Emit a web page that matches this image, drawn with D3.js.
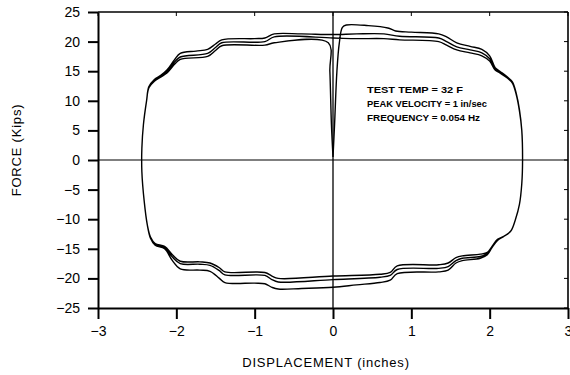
<!DOCTYPE html>
<html>
<head>
	<title>Hysteresis loop</title>
	<script src="https://cdnjs.cloudflare.com/ajax/libs/d3/7.8.5/d3.min.js" charset="utf-8"></script>
	<style>
		body { margin: 0; background: white; }
		text { font-family: "Liberation Sans", Arial, sans-serif; fill: black; }
		.axis path, .axis line { fill: none; stroke: black; stroke-width: 2px; }
		.tick text { font-size: 14px; }
		.curve { fill: none; stroke: black; stroke-width: 1.4px; stroke-linejoin: round; }
	</style>
</head>
<body>
	<svg id="main" width="570" height="375"></svg>

	<script>
		// axis ticks
		var xTicks = [-3, -2, -1, 0, 1, 2, 3];
		var yTicks = [-25, -20, -15, -10, -5, 0, 5, 10, 15, 20, 25];

		// displacement (in), force (kips)
		var firstLoad = [[0, 0.5], [0.02, 6], [0.05, 15], [0.08, 19.7], [0.12, 22.4], [0.17, 22.8]];

		var cycle1 = [[0.45, 22.7], [0.7, 22.3], [0.8, 21.8], [1.0, 21.6], [1.35, 21.3], [1.45, 20.8], [1.58, 19.8],
			[1.75, 19.2], [1.9, 18.7], [2.0, 17.6], [2.07, 15.6], [2.13, 15.0], [2.22, 14.1], [2.29, 13.2], [2.34, 11.2],
			[2.38, 8.5], [2.41, 5], [2.42, 0], [2.41, -4], [2.38, -7.5], [2.33, -10], [2.27, -12], [2.18, -12.9],
			[2.1, -13.6], [2.03, -14.8], [1.97, -16.0], [1.88, -16.6], [1.65, -17.0], [1.57, -17.4], [1.47, -18.6],
			[1.35, -18.9], [0.82, -19.2], [0.73, -20.3], [0.6, -20.7], [0.3, -21.1], [0, -21.5], [-0.4, -21.7],
			[-0.7, -21.8], [-0.78, -21.5], [-0.87, -20.9], [-1.0, -20.8], [-1.38, -20.7], [-1.45, -20.0], [-1.57, -18.8],
			[-1.7, -18.6], [-1.95, -18.4], [-2.05, -17.0], [-2.15, -15.0], [-2.27, -14.4], [-2.33, -13.2], [-2.37, -11],
			[-2.41, -7], [-2.44, -2], [-2.44, 2], [-2.42, 6], [-2.38, 10], [-2.35, 12.4], [-2.28, 13.6], [-2.2, 14.3],
			[-2.12, 15.2], [-2.02, 17.0], [-1.95, 18.0], [-1.75, 18.4], [-1.6, 18.7], [-1.5, 19.6], [-1.42, 20.3],
			[-1.0, 20.5], [-0.87, 20.6], [-0.75, 21.3], [-0.4, 21.3], [0, 21.2]];

		var cycle2 = [[0.3, 21.3], [0.65, 21.3], [0.85, 20.9], [1.35, 20.6], [1.45, 20.0], [1.58, 19.1], [1.75, 18.6],
			[1.9, 18.1], [2.0, 17.1], [2.07, 15.4], [2.13, 14.8], [2.22, 14.0], [2.29, 13.1], [2.34, 11.1], [2.38, 8.4],
			[2.41, 5], [2.42, 0], [2.41, -4], [2.38, -7.5], [2.33, -10], [2.27, -12], [2.18, -12.9], [2.1, -13.5],
			[2.03, -14.7], [1.97, -15.8], [1.88, -16.3], [1.65, -16.6], [1.57, -17.0], [1.47, -18.0], [1.35, -18.3],
			[0.82, -18.5], [0.73, -19.5], [0.6, -19.8], [0, -20.2], [-0.7, -20.6], [-0.78, -20.2], [-0.87, -19.5],
			[-1.38, -19.4], [-1.45, -18.7], [-1.57, -17.8], [-1.7, -17.6], [-1.95, -17.5], [-2.05, -16.4], [-2.15, -14.8],
			[-2.27, -14.2], [-2.33, -13.1], [-2.37, -11], [-2.41, -7], [-2.44, -2], [-2.44, 2], [-2.42, 6], [-2.38, 10],
			[-2.35, 12.3], [-2.28, 13.4], [-2.2, 14.1], [-2.12, 14.9], [-2.02, 16.6], [-1.95, 17.4], [-1.6, 18.0],
			[-1.5, 19.0], [-1.42, 19.8], [-0.87, 20.0], [-0.75, 20.8], [0, 20.6]];

		var cycle3 = [[0.3, 20.5], [0.65, 20.5], [0.85, 20.3], [1.35, 20.0], [1.45, 19.4], [1.58, 18.6], [1.75, 18.1],
			[1.9, 17.6], [2.0, 16.7], [2.07, 15.2], [2.13, 14.7], [2.22, 13.9], [2.29, 13.0], [2.34, 11.0], [2.38, 8.3],
			[2.41, 5], [2.42, 0], [2.41, -4], [2.38, -7.5], [2.33, -10], [2.27, -12], [2.18, -12.9], [2.1, -13.4],
			[2.03, -14.6], [1.97, -15.6], [1.88, -15.9], [1.65, -16.2], [1.57, -16.5], [1.47, -17.4], [1.35, -17.7],
			[0.82, -17.9], [0.73, -19.0], [0.6, -19.3], [0, -19.6], [-0.7, -20.0], [-0.78, -19.6], [-0.87, -19.0],
			[-1.38, -18.9], [-1.45, -18.2], [-1.57, -17.4], [-1.7, -17.2], [-1.95, -17.1], [-2.05, -16.0], [-2.15, -14.6],
			[-2.27, -14.1], [-2.33, -13.0], [-2.37, -11], [-2.41, -7], [-2.44, -2], [-2.44, 2], [-2.42, 6], [-2.38, 10],
			[-2.35, 12.2], [-2.28, 13.3], [-2.2, 14.0], [-2.12, 14.7], [-2.02, 16.2], [-1.95, 17.0], [-1.6, 17.5],
			[-1.5, 18.5], [-1.42, 19.3], [-0.87, 19.4], [-0.75, 19.8], [-0.06, 19.8]];

		var finalUnload = [[-0.04, 15], [-0.02, 6], [0, 0.5]];

		var notes = ["TEST TEMP = 32  F", "PEAK VELOCITY = 1 in/sec", "FREQUENCY = 0.054 Hz"];

		var LEFT = 98, TOP = 12, WIDTH = 470, HEIGHT = 296;

		var svg = d3.select('#main');
		var g = svg.append('g').attr('transform', 'translate(' + LEFT + ',' + TOP + ')');

		var x = d3.scaleLinear().domain([-3, 3]).range([0, WIDTH]);
		var y = d3.scaleLinear().domain([-25, 25]).range([HEIGHT, 0]);

		// top and right border with small inward ticks
		g.append('line').attr('x1', 0).attr('x2', WIDTH).attr('y1', 0).attr('y2', 0)
			.attr('stroke', 'black').attr('stroke-width', 1.6);
		g.append('line').attr('x1', WIDTH).attr('x2', WIDTH).attr('y1', 0).attr('y2', HEIGHT)
			.attr('stroke', 'black').attr('stroke-width', 1.6);
		g.selectAll('.rtick').data(yTicks).enter().append('line')
			.attr('x1', WIDTH - 4).attr('x2', WIDTH)
			.attr('y1', function(d) { return y(d); }).attr('y2', function(d) { return y(d); })
			.attr('stroke', 'black').attr('stroke-width', 1);
		g.selectAll('.ttick').data(xTicks).enter().append('line')
			.attr('x1', function(d) { return x(d); }).attr('x2', function(d) { return x(d); })
			.attr('y1', 0).attr('y2', 4)
			.attr('stroke', 'black').attr('stroke-width', 1);

		// zero lines
		g.append('line').attr('x1', 0).attr('x2', WIDTH).attr('y1', y(0)).attr('y2', y(0))
			.attr('stroke', 'black').attr('stroke-width', 1.1);
		g.append('line').attr('x1', x(0)).attr('x2', x(0)).attr('y1', 0).attr('y2', HEIGHT)
			.attr('stroke', 'black').attr('stroke-width', 1.3);

		g.append('g').attr('class', 'axis')
			.call(d3.axisLeft(y).tickValues(yTicks).tickFormat(d3.format('d'))
				.tickSize(10).tickSizeOuter(0).tickPadding(8));

		g.append('g').attr('class', 'axis')
			.attr('transform', 'translate(0,' + HEIGHT + ')')
			.call(d3.axisBottom(x).tickValues(xTicks).tickFormat(d3.format('d'))
				.tickSize(11).tickSizeOuter(0).tickPadding(7));

		// the loop path
		var pts = firstLoad.concat(cycle1, cycle2, cycle3, finalUnload);
		var line = d3.line()
			.x(function(d) { return x(d[0]); })
			.y(function(d) { return y(d[1]); })
			.curve(d3.curveCatmullRom.alpha(0.5));

		g.append('path').attr('class', 'curve').attr('d', line(pts));

		// test conditions
		var noteWidths = [96, 120, 113];
		svg.selectAll('.note').data(notes).enter().append('text')
			.attr('x', 367)
			.attr('y', function(d, i) { return 93 + i * 14; })
			.attr('textLength', function(d, i) { return noteWidths[i]; })
			.attr('lengthAdjust', 'spacingAndGlyphs')
			.style('font-size', '9.5px')
			.style('font-weight', 'bold')
			.text(function(d) { return d; });

		svg.append('text')
			.attr('x', 326).attr('y', 367)
			.attr('text-anchor', 'middle')
			.style('font-size', '13px').style('letter-spacing', '0.8px')
			.text('DISPLACEMENT  (inches)');

		svg.append('text')
			.attr('transform', 'translate(21,150) rotate(-90)')
			.attr('text-anchor', 'middle')
			.style('font-size', '13px').style('letter-spacing', '0.8px')
			.text('FORCE  (Kips)');
	</script>
</body>
</html>
